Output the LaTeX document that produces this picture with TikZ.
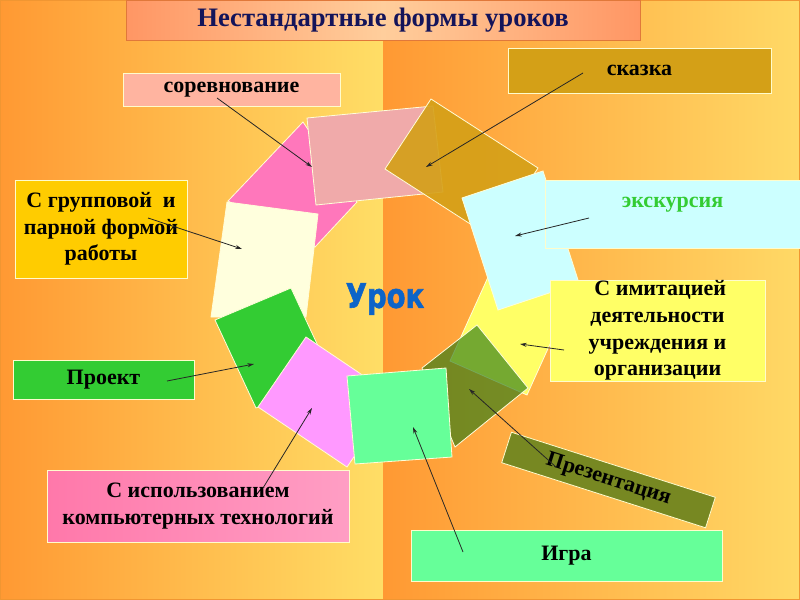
\documentclass[tikz,border=0pt]{standalone}
\usepackage{fontspec}
\setmainfont{Liberation Serif}
\newfontfamily\urokfont[BoldFeatures={FakeBold=1.6, FakeStretch=0.9}]{DejaVu Sans Condensed}
\usetikzlibrary{arrows.meta}

\definecolor{bgOrange}{RGB}{255,153,51}
\definecolor{bgLight}{RGB}{255,222,102}
\definecolor{bgLightR}{RGB}{255,217,102}
\definecolor{bgEdge}{RGB}{240,150,50}
\definecolor{titleEdge}{RGB}{255,150,100}
\definecolor{titleMid}{RGB}{255,206,156}
\definecolor{titleLine}{RGB}{224,120,58}
\definecolor{titleInk}{RGB}{20,20,90}
\definecolor{formPink}{RGB}{255,119,187}
\definecolor{formSalmon}{RGB}{240,170,170}
\definecolor{formGold}{RGB}{212,160,23}
\definecolor{formCyan}{RGB}{204,255,255}
\definecolor{formLemon}{RGB}{255,255,102}
\definecolor{formOlive}{RGB}{44,123,21}
\definecolor{tagOlive}{RGB}{119,136,34}
\definecolor{formMint}{RGB}{102,255,153}
\definecolor{formViolet}{RGB}{255,153,255}
\definecolor{formGrass}{RGB}{51,204,51}
\definecolor{formCream}{RGB}{255,255,221}
\definecolor{tagSalmon}{RGB}{255,180,160}
\definecolor{tagAmber}{RGB}{255,204,0}
\definecolor{tagRose}{RGB}{255,120,170}
\definecolor{tagRoseLight}{RGB}{255,158,196}
\definecolor{urokBlue}{RGB}{12,100,200}

\begin{document}
\begin{tikzpicture}[x=0.75pt, y=-0.75pt,
        piece/.style={draw=white!85!yellow, line width=0.6pt},
        tag/.style={rectangle, draw=white!80!yellow, line width=0.6pt, inner sep=0pt, align=center, font=\fontsize{16.5}{20}\selectfont\bfseries},
        pointer/.style={-{Stealth[length=5pt, width=3pt]}, line width=0.6pt, black!85}
    ]
        \useasboundingbox (0,0) rectangle (800,600);
        \shade[left color=bgOrange, right color=bgLight] (0,0) rectangle (383,600);
        \shade[left color=bgOrange, right color=bgLightR] (383,0) rectangle (800,600);
        \draw[bgEdge, line width=1.2pt] (0,0) rectangle (800,600);

        % ring of forms
        \filldraw[piece, fill=formPink] (303,122) -- (357,202) -- (315,247) -- (228,201) -- cycle;
        \filldraw[piece, fill=formSalmon] (307,118) -- (433,106) -- (443,192) -- (316,205) -- cycle;
        \filldraw[piece, fill=formGold, fill opacity=0.9] (431,99) -- (538,168) -- (492,238) -- (385,169) -- cycle;
        \filldraw[piece, fill=formLemon] (498,255) -- (575,289) -- (527,395) -- (450,361) -- cycle;
        \filldraw[piece, fill=formCyan] (462,198) -- (543,171) -- (579,283) -- (498,310) -- cycle;
        \filldraw[piece, fill=formCream] (227,202) -- (318,214) -- (306,317) -- (211,317) -- cycle;
        \filldraw[piece, fill=formGrass] (215,320) -- (291,288) -- (332,376) -- (256,408) -- cycle;
        \filldraw[piece, fill=formViolet] (306,337) -- (395,397) -- (347,467) -- (258,407) -- cycle;
        \filldraw[piece, fill=formOlive, fill opacity=0.65] (477,325) -- (528,388) -- (455,447) -- (422,368) -- cycle;
        \filldraw[piece, fill=formMint] (347,376) -- (446,368) -- (452,457) -- (355,464) -- cycle;

        \node[text=urokBlue, font=\urokfont\bfseries\fontsize{25.5}{30}\selectfont] (urok) at (385,299) {Урок};

        \node[tag, draw=titleLine, left color=titleEdge, right color=titleEdge, middle color=titleMid, text=titleInk, minimum width=385.5pt, minimum height=30pt, font=\fontsize{20}{23}\selectfont\bfseries] (title) at (383,20) {Нестандартные формы уроков};

        \node[tag, fill=tagSalmon, minimum width=162.75pt, minimum height=24.75pt] (contest) at (231.5,89.5) {соревнование};
        \node[tag, fill=formGold, minimum width=197.25pt, minimum height=33.75pt] (tale) at (639.5,70.5) {сказка};
        \node[tag, fill=tagAmber, minimum width=129pt, minimum height=73.5pt] (group) at (101,229) {С групповой\ \ и\\парной формой\\работы};
        \node[tag, fill=formCyan, text=formGrass, minimum width=191.25pt, minimum height=51pt, text depth=18pt] (excursion) at (672.5,214) {экскурсия};
        \node[tag, fill=formLemon, minimum width=161.25pt, minimum height=75.75pt] (imitation) at (657.5,330.5) {\ С имитацией\\деятельности\\учреждения и\\организации};
        \node[tag, fill=formGrass, minimum width=135.75pt, minimum height=29.25pt] (project) at (103.5,379.5) {Проект};
        \node[tag, left color=tagRose, right color=tagRoseLight, minimum width=226.5pt, minimum height=54pt] (computer) at (198,506) {С использованием\\компьютерных технологий};
        \node[tag, fill=formMint, minimum width=233.25pt, minimum height=38.25pt] (game) at (566.5,555.5) {Игра};
        \node[tag, fill=tagOlive, rotate=-17.7, minimum width=160.5pt, minimum height=24pt] (presentation) at (608.5,480) {Презентация};

        % pointers from the tags into the ring
        \foreach \n/\a/\b in {contest/{217,98}/{312,167}, tale/{583,73}/{426,167}, group/{148,218}/{242,249},
                excursion/{589,218}/{515,236}, imitation/{564,350}/{520,344}, project/{167,381}/{254,364},
                computer/{263,488}/{312,408}, game/{463,552}/{413,427}, presentation/{556,467}/{469,389}} {
            \coordinate (\n-from) at (\a);
            \coordinate (\n-to) at (\b);
            \draw[pointer] (\n-from) -- (\n-to);
        }
\end{tikzpicture}
\end{document}
